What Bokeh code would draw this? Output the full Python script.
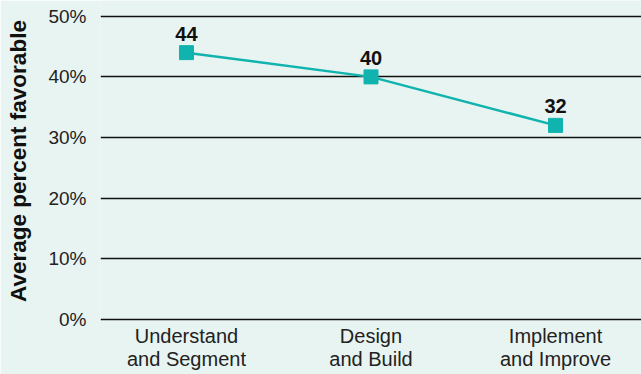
from bokeh.plotting import figure
from bokeh.models import FixedTicker, ColumnDataSource, Range1d
from bokeh.embed import file_html
from bokeh.resources import INLINE
from bokeh.core.properties import value

categories = ["Understand\nand Segment", "Design\nand Build", "Implement\nand Improve"]
values = [44, 40, 32]
y_ticks = [0, 10, 20, 30, 40, 50]
y_tick_labels = ["0%", "10%", "20%", "30%", "40%", "50%"]

bg = "#e8f4f1"
teal = "#10b3ad"
font = "Liberation Sans"

xs = list(range(len(categories)))
src = ColumnDataSource(dict(x=xs, y=values, label=[str(v) for v in values]))

p = figure(width=641, height=374, output_backend="svg", toolbar_location=None,
           x_range=Range1d(-0.466, 2.466), y_range=Range1d(-0.35, 52.6),
           min_border_left=100, min_border_right=0, min_border_top=0, min_border_bottom=53)
p.background_fill_color = bg
p.border_fill_color = bg
p.outline_line_color = None

p.line("x", "y", source=src, line_color=teal, line_width=2.5)
p.scatter("x", "y", source=src, marker="square", size=14, fill_color=teal, line_color=teal)
p.text("x", "y", text="label", source=src, text_align="center", text_baseline="bottom",
       y_offset=-12, text_font=value(font), text_font_style="bold", text_font_size="20px",
       text_color="#111111")

# y axis
p.yaxis.ticker = FixedTicker(ticks=y_ticks)
p.yaxis.major_label_overrides = {t: l for t, l in zip(y_ticks, y_tick_labels)}
p.yaxis.axis_line_color = None
p.yaxis.major_tick_line_color = None
p.yaxis.minor_tick_line_color = None
p.yaxis.major_label_standoff = 8
p.yaxis.major_label_text_font = font
p.yaxis.major_label_text_font_size = "19px"
p.yaxis.major_label_text_color = "#222222"
p.yaxis.axis_label = "Average percent favorable"
p.yaxis.axis_label_text_font = font
p.yaxis.axis_label_text_font_style = "bold"
p.yaxis.axis_label_text_font_size = "22.5px"
p.yaxis.axis_label_text_color = "#111111"
p.yaxis.axis_label_standoff = 14

# x axis
p.xaxis.ticker = FixedTicker(ticks=xs)
p.xaxis.major_label_overrides = {i: c for i, c in zip(xs, categories)}
p.xaxis.axis_line_color = None
p.xaxis.major_tick_line_color = None
p.xaxis.minor_tick_line_color = None
p.xaxis.major_label_standoff = -3
p.xaxis.major_label_text_font = font
p.xaxis.major_label_text_font_size = "20px"
p.xaxis.major_label_text_line_height = 1.05
p.xaxis.major_label_text_color = "#222222"

p.xgrid.grid_line_color = None
p.ygrid.ticker = FixedTicker(ticks=y_ticks)
p.ygrid.grid_line_color = "#111111"
p.ygrid.grid_line_width = 1.5

open("out.html", "w").write(file_html(p, INLINE))
